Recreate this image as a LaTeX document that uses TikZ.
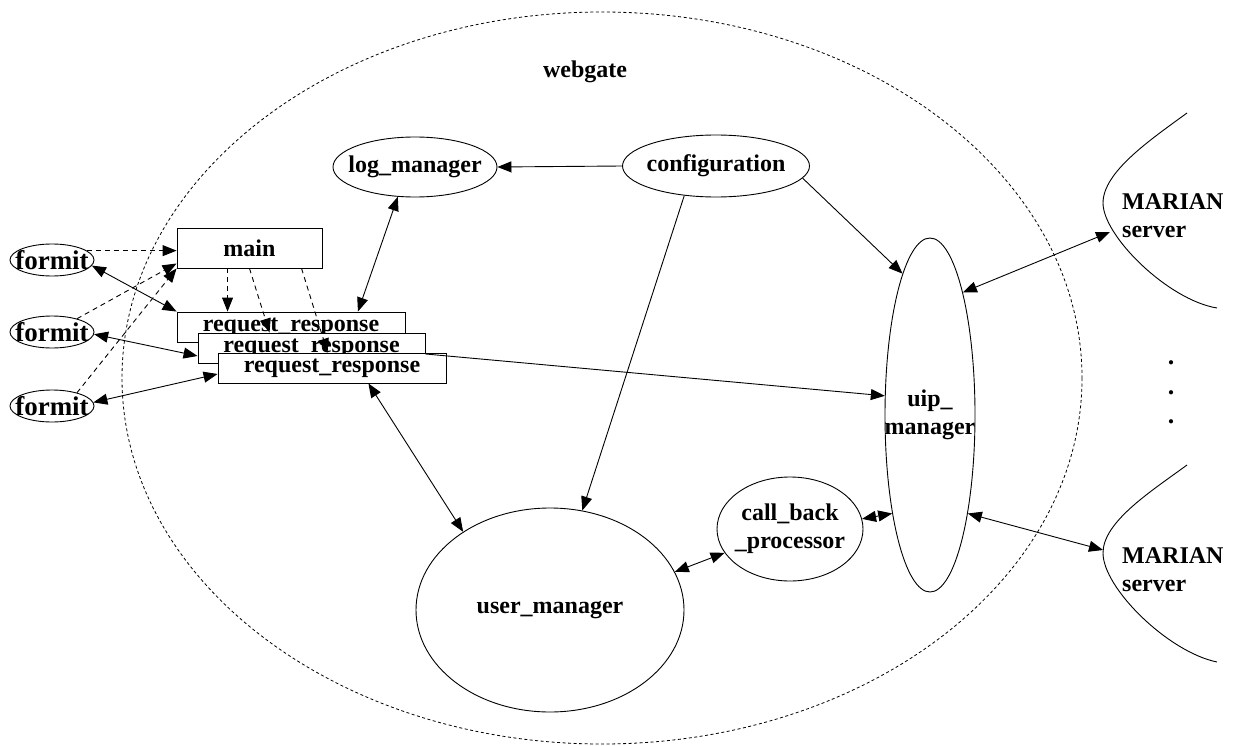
\documentclass[tikz,border=0pt]{standalone}
\usepackage{fontspec}
\setmainfont{Liberation Serif}
\usetikzlibrary{shapes.geometric,arrows.meta,calc}

% zero-width wrappers so the label never enlarges its shape
\newcommand{\zw}[1]{\makebox[0pt]{#1}}
\newcommand{\twoln}[2]{\makebox[0pt]{\begin{tabular}{@{}c@{}}#1\\#2\end{tabular}}}

\begin{document}
\begin{tikzpicture}[x=1pt,y=-1pt,
  every node/.style={font=\fontsize{24}{28}\selectfont\bfseries, inner sep=0pt},
  oval/.style={draw, ellipse, line width=0.9pt, fill=white},
  box/.style={draw, rectangle, line width=0.9pt, fill=white},
  client/.style={oval, minimum width=84, minimum height=32, font=\fontsize{27}{30}\selectfont\bfseries},
  link/.style={line width=0.9pt, -{Triangle[length=14pt,width=11pt]}},
  dlink/.style={line width=0.9pt, {Triangle[length=14pt,width=11pt]}-{Triangle[length=14pt,width=11pt]}},
  dashlink/.style={link, dash pattern=on 5pt off 4pt},
  border/.style={line width=0.8pt, dash pattern=on 3pt off 2.5pt},
  curve/.style={line width=0.9pt},
]
\useasboundingbox (0,0) rectangle (1233,746);

% webgate boundary
\draw[border] (602,378) ellipse [x radius=480, y radius=366];
\node (wg) at (585,72) {webgate};

% components inside webgate
\node[oval, minimum width=164, minimum height=60] (log) at (415,167) {\zw{log\_manager}};
\node[oval, minimum width=187, minimum height=62] (conf) at (716,166) {\zw{configuration}};
\node[oval, minimum width=268, minimum height=204] (um) at (550,610) {\zw{user\_manager}};
\node[oval, minimum width=146, minimum height=104] (cb) at (790,529) {\twoln{call\_back}{\_processor}};
\node[oval, minimum width=90, minimum height=354] (uip) at (930,415) {\raisebox{-4pt}{\twoln{uip\_}{manager}}};

\node[box, minimum width=145, minimum height=40] (main) at (249.5,248) {main};
\node[box, minimum width=228, minimum height=30] (rr1) at (291,327) {request\_response};
\node[box, minimum width=227, minimum height=30] (rr2) at (311.5,348) {request\_response};
\node[box, minimum width=228, minimum height=30] (rr3) at (332,368) {request\_response};

% clients
\node[client] (f1) at (52,260) {\zw{formit}};
\node[client] (f2) at (52,332) {\zw{formit}};
\node[client] (f3) at (52,406) {\zw{formit}};

% MARIAN servers
\draw[curve] (1187,113) .. controls (1150,140) and (1103,172) .. (1103,203)
  .. controls (1103,236) and (1168,300) .. (1217,308);
\coordinate (s1tip) at (1110,232);
\node[anchor=west, align=left] (s1) at (1122,216) {MARIAN\\server};

\draw[curve] (1187,465) .. controls (1150,492) and (1103,522) .. (1103,553)
  .. controls (1103,588) and (1168,652) .. (1217,662);
\coordinate (s2tip) at (1103,550);
\node[anchor=west, align=left] (s2) at (1122,570) {MARIAN\\server};

\node[align=center, font=\fontsize{26}{29.5}\selectfont\bfseries] (dots) at (1171,392.5) {.\\.\\.};

% formit traffic
\draw[dashlink] (f1.15) -- (f1.15 -| main.west);
\draw[dashlink] (f2.28) -- (main.192);
\draw[dashlink] (f3.28) -- (main.south west);
\draw[dlink] (f1.-8) -- (rr1.north west);
\draw[dlink] (f2.-3) -- (rr2.184);
\draw[dlink] (f3.5) -- (rr3.183);

% main spawns request handlers
\draw[dashlink] ([xshift=51pt]main.south west) -- ([xshift=51pt]rr1.north west);
\draw[dashlink] (main.south) -- ([xshift=72pt]rr2.north west);
\draw[dashlink] ([xshift=125pt]main.south west) -- ([xshift=110pt]rr3.north west);

% internal links
\draw[link] (conf.west) -- (log.east);
\draw[dlink] (log.240) -- (rr1.13);
\draw[link] (conf.223) -- (um.72);
\draw[link] (conf.-8) -- (uip.101);
\draw[dlink] (rr3.-23) -- (um.138);
\draw[link] (rr2.-3) -- (uip.157);
\draw[dlink] (um.17) -- (cb.200);
\draw[dlink] (cb.8) -- (uip.249);

% links to servers
\draw[dlink] (uip.75) -- (s1tip);
\draw[dlink] (uip.-69) -- (s2tip);
\end{tikzpicture}
\end{document}
